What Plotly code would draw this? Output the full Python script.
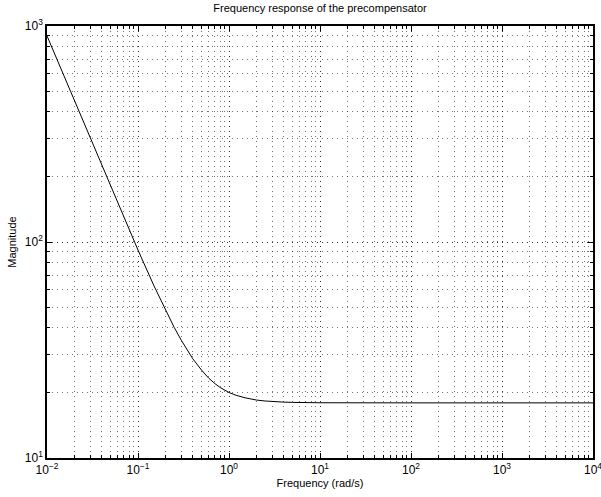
import plotly.graph_objects as go

freq = [0.01, 0.015, 0.02, 0.03, 0.05, 0.07, 0.1, 0.15, 0.2, 0.25, 0.3, 0.4, 0.5, 0.6, 0.7, 0.8,
        1.0, 1.2, 1.5, 2.0, 2.5, 3.0, 4.0, 5.0, 7.0, 10.0, 100.0, 1000.0, 10000.0]
magnitude = [900, 600.3, 450.4, 300.5, 180.9, 129.8, 91.8, 62.6, 48.5, 40.2, 35.0, 28.8, 25.5, 23.4,
             22.1, 21.2, 20.1, 19.5, 19.0, 18.55, 18.36, 18.25, 18.14, 18.09, 18.05, 18.02, 18.0, 18.0, 18.0]

x_ticks = [0.01, 0.1, 1, 10, 100, 1000, 10000]
x_labels = ["10<sup>−2</sup>", "10<sup>−1</sup>", "10<sup>0</sup>", "10<sup>1</sup>",
            "10<sup>2</sup>", "10<sup>3</sup>", "10<sup>4</sup>"]
y_ticks = [10, 100, 1000]
y_labels = ["10<sup>1</sup>", "10<sup>2</sup>", "10<sup>3</sup>"]

fig = go.Figure()
fig.add_trace(go.Scatter(x=freq, y=magnitude, mode="lines",
                         line=dict(color="black", width=1), showlegend=False))

font = dict(family="Liberation Sans, Arial, Helvetica, sans-serif", size=11, color="black")
tfont = dict(family="Liberation Sans, Arial, Helvetica, sans-serif", size=12, color="black")

axis_common = dict(
    type="log", showline=True, linecolor="black", linewidth=1.5, mirror="allticks",
    ticks="inside", ticklen=5, tickcolor="black", automargin=False,
    ticklabeloverflow="allow",
    showgrid=True, gridcolor="rgba(0,0,0,0.6)", gridwidth=0.7, griddash="1px,4px",
    zeroline=False,
    minor=dict(ticks="inside", ticklen=3, tickcolor="black", showgrid=True,
               gridcolor="rgba(0,0,0,0.55)", gridwidth=0.7, griddash="1px,4px", dtick="D1"),
    tickfont=tfont,
)

fig.update_xaxes(**axis_common, range=[-2, 4.00001], tickvals=x_ticks, ticktext=x_labels,
                 title=dict(text="Frequency (rad/s)", font=font, standoff=2))
fig.update_yaxes(**axis_common, range=[0.99999, 3.00001], tickvals=y_ticks, ticktext=y_labels,
                 title=dict(text="Magnitude", font=font, standoff=6))

fig.update_layout(
    width=601, height=497,
    margin=dict(l=47, r=8, t=26, b=39, autoexpand=False),
    paper_bgcolor="white", plot_bgcolor="white",
    font=font,
    title=dict(text="Frequency response of the precompensator", x=0.5, xref="paper",
               y=1, yref="container", yanchor="top", pad=dict(t=4),
               font=dict(family=font["family"], size=11, color="black")),
)

fig.write_html("out.html", config={"displayModeBar": False},
               post_script="document.body.style.margin='0';")
